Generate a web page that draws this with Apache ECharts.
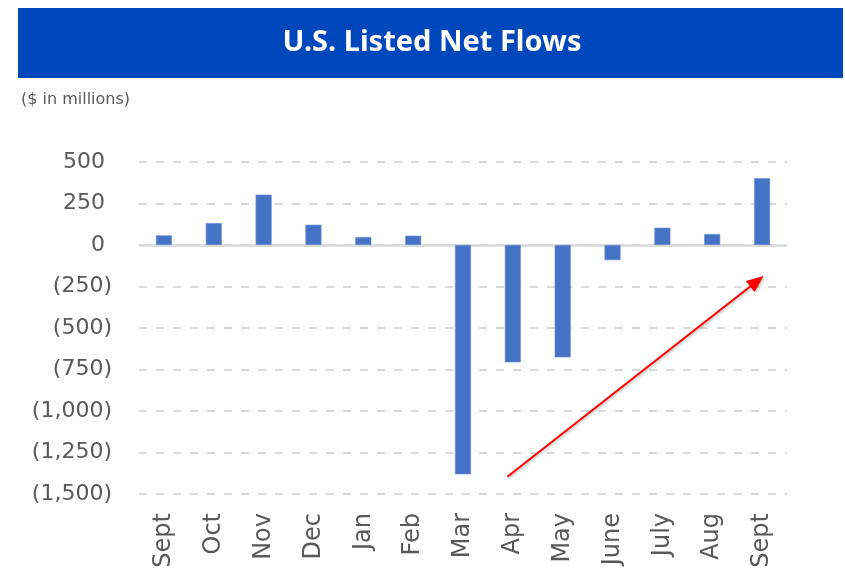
<!DOCTYPE html>
<html>
<head>
<meta charset="utf-8">
<script src="https://cdn.jsdelivr.net/npm/echarts@6/dist/echarts.min.js"></script>
<style>
  html, body { margin: 0; padding: 0; background: #fff; }
  #chart { width: 845px; height: 575px; }
</style>
</head>
<body>
<div id="chart"></div>
<script>
// Monthly net flows, $ millions
const months = ['Sept', 'Oct', 'Nov', 'Dec', 'Jan', 'Feb', 'Mar', 'Apr', 'May', 'June', 'July', 'Aug', 'Sept'];
const netFlows = [58, 132, 303, 122, 48, 56, -1381, -707, -677, -91, 104, 66, 402];
const yTicks = { min: -1500, max: 500, step: 250 };
// Trend arrow, in data space: [category position, value]
const trendStart = [6.89, -1396];
const trendEnd = [12.03, -187];

const chart = echarts.init(document.getElementById('chart'), null, { renderer: 'canvas' });

const fmt = v => {
  const s = Math.abs(v).toLocaleString('en-US');
  return v < 0 ? '(' + s + ')' : s + ' ';
};

const axisFont = 'DejaVu Sans';

chart.setOption({
  animation: false,
  backgroundColor: '#ffffff',
  grid: { left: 139, right: 58, top: 162, bottom: 81, containLabel: false },
  xAxis: {
    type: 'category',
    data: months.map((m, i) => ({ value: i + '', label: m })),
    axisLine: { show: false },
    axisTick: { show: false },
    axisLabel: {
      rotate: 90,
      margin: 19,
      color: '#595959',
      fontFamily: axisFont,
      fontSize: 24,
      formatter: (v) => months[+v]
    }
  },
  yAxis: {
    type: 'value',
    min: yTicks.min,
    max: yTicks.max,
    interval: yTicks.step,
    axisLine: { show: false },
    axisTick: { show: false },
    axisLabel: {
      color: '#595959',
      fontFamily: axisFont,
      fontSize: 22,
      margin: 27,
      formatter: fmt
    },
    splitLine: {
      lineStyle: { color: '#D9D9D9', width: 2, type: [8, 9] }
    }
  },
  series: [{
    type: 'bar',
    data: netFlows,
    barWidth: 16,
    itemStyle: { color: '#4472C4', borderColor: '#6A8FD3', borderWidth: 0.6 },
    markLine: {
      silent: true,
      symbol: 'none',
      label: { show: false },
      lineStyle: { color: '#D9D9D9', width: 2.5, type: 'solid' },
      data: [{ yAxis: 0 }],
      z: 1
    }
  }]
});

// Position along the category axis for fractional indexes
function toPixel(pt) {
  const i0 = Math.floor(pt[0]);
  const i1 = i0 + 1;
  const a = chart.convertToPixel({ gridIndex: 0 }, [i0, pt[1]]);
  const b = chart.convertToPixel({ gridIndex: 0 }, [i1, pt[1]]);
  const t = pt[0] - i0;
  return [a[0] + (b[0] - a[0]) * t, a[1]];
}

const p0 = toPixel(trendStart);
const p1 = toPixel(trendEnd);
const ang = Math.atan2(p1[1] - p0[1], p1[0] - p0[0]);
const headLen = 17, headHalf = 7;
const base = [p1[0] - headLen * Math.cos(ang), p1[1] - headLen * Math.sin(ang)];
const nx = -Math.sin(ang), ny = Math.cos(ang);

chart.setOption({
  graphic: [
    {
      type: 'rect',
      shape: { x: 18, y: 8, width: 825, height: 70 },
      style: { fill: '#0047BB' },
      silent: true
    },
    {
      type: 'text',
      x: 432, y: 43,
      style: {
        text: 'U.S. Listed Net Flows',
        fill: '#ffffff',
        font: 'bold 29px "Noto Sans"',
        align: 'center',
        verticalAlign: 'middle'
      },
      silent: true
    },
    {
      type: 'text',
      x: 21, y: 100,
      style: {
        text: '($ in millions)',
        fill: '#595959',
        font: '16px "DejaVu Sans"',
        align: 'left',
        verticalAlign: 'middle'
      },
      silent: true
    },
    {
      type: 'line',
      shape: { x1: p0[0], y1: p0[1], x2: base[0], y2: base[1] },
      style: { stroke: '#FF0000', lineWidth: 2, shadowColor: 'rgba(0,0,0,0.3)', shadowBlur: 3, shadowOffsetX: 1, shadowOffsetY: 1 },
      z: 100,
      silent: true
    },
    {
      type: 'polygon',
      shape: {
        points: [
          [p1[0], p1[1]],
          [base[0] + nx * headHalf, base[1] + ny * headHalf],
          [base[0] - nx * headHalf, base[1] - ny * headHalf]
        ]
      },
      style: { fill: '#FF0000', shadowColor: 'rgba(0,0,0,0.3)', shadowBlur: 3, shadowOffsetX: 1, shadowOffsetY: 1 },
      z: 100,
      silent: true
    }
  ]
});
</script>
</body>
</html>
